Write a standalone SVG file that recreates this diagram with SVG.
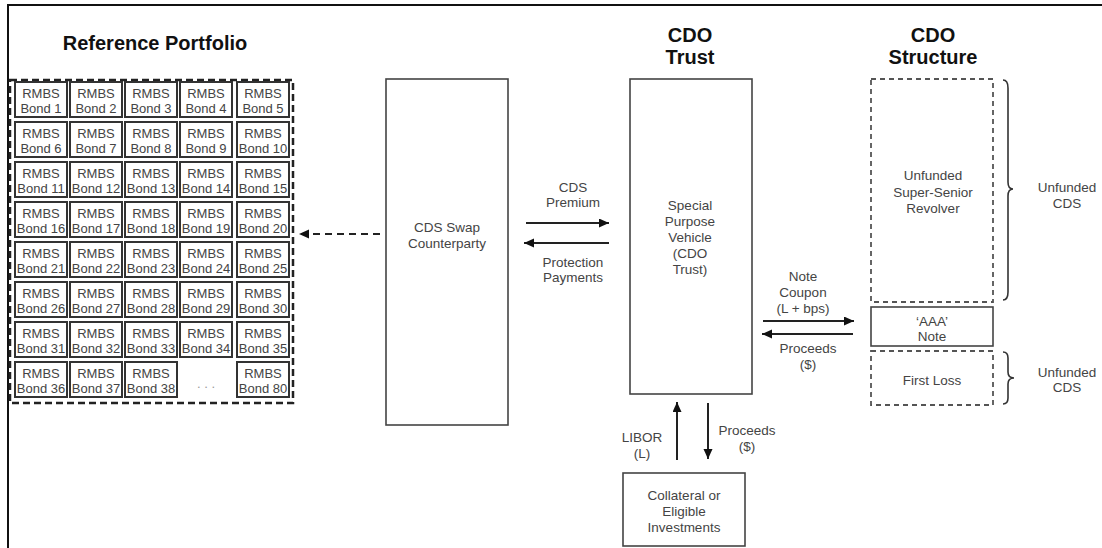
<svg xmlns="http://www.w3.org/2000/svg" width="1102" height="548" viewBox="0 0 1102 548">
<defs>
<marker id="ah" markerUnits="userSpaceOnUse" markerWidth="11" markerHeight="10" refX="10" refY="4.5" orient="auto"><path d="M0,0 L10,4.5 L0,9 z" fill="#111"/></marker>
<style>
.t{font-family:"Liberation Sans",Arial,sans-serif;font-size:13.5px;fill:#444;text-anchor:middle}
.c{font-family:"Liberation Sans",Arial,sans-serif;font-size:13px;fill:#444;text-anchor:middle}
.h{font-family:"Liberation Sans",Arial,sans-serif;font-size:20px;font-weight:bold;fill:#111;text-anchor:middle}
.box{fill:#fff;stroke:#444;stroke-width:1.6}
.dbox{fill:none;stroke:#555;stroke-width:1.8;stroke-dasharray:5,4}
.cell{fill:#fff;stroke:#333;stroke-width:2}
.ln{stroke:#222;stroke-width:2;fill:none}
.br{stroke:#333;stroke-width:1.6;fill:none}
</style>
</defs>
<rect width="1102" height="548" fill="#fff"/>
<path d="M8,548 L8,5 L1102,5" fill="none" stroke="#111" stroke-width="2"/>

<g id="titles">
<text class="h" x="155" y="50">Reference Portfolio</text>
<text class="h" x="690" y="42">CDO</text>
<text class="h" x="690" y="64">Trust</text>
<text class="h" x="933" y="42">CDO</text>
<text class="h" x="933" y="64">Structure</text>
</g>

<g id="portfolio">
<rect x="10" y="80" width="283" height="323" fill="none" stroke="#222" stroke-width="2.5" stroke-dasharray="7,4"/>
<g id="r1">
<rect class="cell" x="15" y="82" width="52" height="35"/><text class="c" x="41" y="98">RMBS</text><text class="c" x="41" y="113">Bond 1</text>
<rect class="cell" x="70" y="82" width="52" height="35"/><text class="c" x="96" y="98">RMBS</text><text class="c" x="96" y="113">Bond 2</text>
<rect class="cell" x="125" y="82" width="52" height="35"/><text class="c" x="151" y="98">RMBS</text><text class="c" x="151" y="113">Bond 3</text>
<rect class="cell" x="180" y="82" width="52" height="35"/><text class="c" x="206" y="98">RMBS</text><text class="c" x="206" y="113">Bond 4</text>
<rect class="cell" x="237" y="82" width="52" height="35"/><text class="c" x="263" y="98">RMBS</text><text class="c" x="263" y="113">Bond 5</text>
</g>
<g id="r2">
<rect class="cell" x="15" y="122" width="52" height="35"/><text class="c" x="41" y="138">RMBS</text><text class="c" x="41" y="153">Bond 6</text>
<rect class="cell" x="70" y="122" width="52" height="35"/><text class="c" x="96" y="138">RMBS</text><text class="c" x="96" y="153">Bond 7</text>
<rect class="cell" x="125" y="122" width="52" height="35"/><text class="c" x="151" y="138">RMBS</text><text class="c" x="151" y="153">Bond 8</text>
<rect class="cell" x="180" y="122" width="52" height="35"/><text class="c" x="206" y="138">RMBS</text><text class="c" x="206" y="153">Bond 9</text>
<rect class="cell" x="237" y="122" width="52" height="35"/><text class="c" x="263" y="138">RMBS</text><text class="c" x="263" y="153">Bond 10</text>
</g>
<g id="r3">
<rect class="cell" x="15" y="162" width="52" height="35"/><text class="c" x="41" y="178">RMBS</text><text class="c" x="41" y="193">Bond 11</text>
<rect class="cell" x="70" y="162" width="52" height="35"/><text class="c" x="96" y="178">RMBS</text><text class="c" x="96" y="193">Bond 12</text>
<rect class="cell" x="125" y="162" width="52" height="35"/><text class="c" x="151" y="178">RMBS</text><text class="c" x="151" y="193">Bond 13</text>
<rect class="cell" x="180" y="162" width="52" height="35"/><text class="c" x="206" y="178">RMBS</text><text class="c" x="206" y="193">Bond 14</text>
<rect class="cell" x="237" y="162" width="52" height="35"/><text class="c" x="263" y="178">RMBS</text><text class="c" x="263" y="193">Bond 15</text>
</g>
<g id="r4">
<rect class="cell" x="15" y="202" width="52" height="35"/><text class="c" x="41" y="218">RMBS</text><text class="c" x="41" y="233">Bond 16</text>
<rect class="cell" x="70" y="202" width="52" height="35"/><text class="c" x="96" y="218">RMBS</text><text class="c" x="96" y="233">Bond 17</text>
<rect class="cell" x="125" y="202" width="52" height="35"/><text class="c" x="151" y="218">RMBS</text><text class="c" x="151" y="233">Bond 18</text>
<rect class="cell" x="180" y="202" width="52" height="35"/><text class="c" x="206" y="218">RMBS</text><text class="c" x="206" y="233">Bond 19</text>
<rect class="cell" x="237" y="202" width="52" height="35"/><text class="c" x="263" y="218">RMBS</text><text class="c" x="263" y="233">Bond 20</text>
</g>
<g id="r5">
<rect class="cell" x="15" y="242" width="52" height="35"/><text class="c" x="41" y="258">RMBS</text><text class="c" x="41" y="273">Bond 21</text>
<rect class="cell" x="70" y="242" width="52" height="35"/><text class="c" x="96" y="258">RMBS</text><text class="c" x="96" y="273">Bond 22</text>
<rect class="cell" x="125" y="242" width="52" height="35"/><text class="c" x="151" y="258">RMBS</text><text class="c" x="151" y="273">Bond 23</text>
<rect class="cell" x="180" y="242" width="52" height="35"/><text class="c" x="206" y="258">RMBS</text><text class="c" x="206" y="273">Bond 24</text>
<rect class="cell" x="237" y="242" width="52" height="35"/><text class="c" x="263" y="258">RMBS</text><text class="c" x="263" y="273">Bond 25</text>
</g>
<g id="r6">
<rect class="cell" x="15" y="282" width="52" height="35"/><text class="c" x="41" y="298">RMBS</text><text class="c" x="41" y="313">Bond 26</text>
<rect class="cell" x="70" y="282" width="52" height="35"/><text class="c" x="96" y="298">RMBS</text><text class="c" x="96" y="313">Bond 27</text>
<rect class="cell" x="125" y="282" width="52" height="35"/><text class="c" x="151" y="298">RMBS</text><text class="c" x="151" y="313">Bond 28</text>
<rect class="cell" x="180" y="282" width="52" height="35"/><text class="c" x="206" y="298">RMBS</text><text class="c" x="206" y="313">Bond 29</text>
<rect class="cell" x="237" y="282" width="52" height="35"/><text class="c" x="263" y="298">RMBS</text><text class="c" x="263" y="313">Bond 30</text>
</g>
<g id="r7">
<rect class="cell" x="15" y="322" width="52" height="35"/><text class="c" x="41" y="338">RMBS</text><text class="c" x="41" y="353">Bond 31</text>
<rect class="cell" x="70" y="322" width="52" height="35"/><text class="c" x="96" y="338">RMBS</text><text class="c" x="96" y="353">Bond 32</text>
<rect class="cell" x="125" y="322" width="52" height="35"/><text class="c" x="151" y="338">RMBS</text><text class="c" x="151" y="353">Bond 33</text>
<rect class="cell" x="180" y="322" width="52" height="35"/><text class="c" x="206" y="338">RMBS</text><text class="c" x="206" y="353">Bond 34</text>
<rect class="cell" x="237" y="322" width="52" height="35"/><text class="c" x="263" y="338">RMBS</text><text class="c" x="263" y="353">Bond 35</text>
</g>
<g id="r8">
<rect class="cell" x="15" y="362" width="52" height="35"/><text class="c" x="41" y="378">RMBS</text><text class="c" x="41" y="393">Bond 36</text>
<rect class="cell" x="70" y="362" width="52" height="35"/><text class="c" x="96" y="378">RMBS</text><text class="c" x="96" y="393">Bond 37</text>
<rect class="cell" x="125" y="362" width="52" height="35"/><text class="c" x="151" y="378">RMBS</text><text class="c" x="151" y="393">Bond 38</text>
<text class="c" x="206" y="388" style="fill:#999">. . .</text>
<rect class="cell" x="237" y="362" width="52" height="35"/><text class="c" x="263" y="378">RMBS</text><text class="c" x="263" y="393">Bond 80</text>
</g>
</g>

<g id="cds-swap">
<rect class="box" x="386" y="79" width="122" height="346"/>
<text class="t" x="447" y="232">CDS Swap</text>
<text class="t" x="447" y="248">Counterparty</text>
</g>

<g id="trust">
<rect class="box" x="630" y="79" width="122" height="315"/>
<text class="t" x="690" y="210">Special</text>
<text class="t" x="690" y="226">Purpose</text>
<text class="t" x="690" y="242">Vehicle</text>
<text class="t" x="690" y="258">(CDO</text>
<text class="t" x="690" y="274">Trust)</text>
</g>

<g id="super-senior">
<rect class="dbox" x="871" y="79" width="122" height="223"/>
<text class="t" x="933" y="180">Unfunded</text>
<text class="t" x="933" y="197">Super-Senior</text>
<text class="t" x="933" y="213">Revolver</text>
</g>

<g id="aaa-note">
<rect class="box" x="871" y="307" width="122" height="39"/>
<text class="t" x="932" y="326">&#8216;AAA&#8217;</text>
<text class="t" x="932" y="341">Note</text>
</g>

<g id="first-loss">
<rect class="dbox" x="871" y="351" width="122" height="54"/>
<text class="t" x="932" y="385">First Loss</text>
</g>

<g id="collateral">
<rect class="box" x="623" y="473" width="122" height="73"/>
<text class="t" x="684" y="500">Collateral or</text>
<text class="t" x="684" y="516">Eligible</text>
<text class="t" x="684" y="532">Investments</text>
</g>

<g id="braces">
<path class="br" d="M1003,80 Q1008,80 1008,88 L1008,182 Q1008,189 1013,189 Q1008,189 1008,196 L1008,292 Q1008,300 1003,300"/>
<path class="br" d="M1003,352 Q1008,352 1008,358 L1008,372 Q1008,378 1014,378 Q1008,378 1008,384 L1008,398 Q1008,404 1003,404"/>
<text class="t" x="1067" y="192">Unfunded</text>
<text class="t" x="1067" y="208">CDS</text>
<text class="t" x="1067" y="377">Unfunded</text>
<text class="t" x="1067" y="392">CDS</text>
</g>

<g id="connectors">
<line class="ln" x1="380" y1="234" x2="299" y2="234" stroke-dasharray="7,5" marker-end="url(#ah)"/>
<line class="ln" x1="526" y1="223" x2="609" y2="223" marker-end="url(#ah)"/>
<line class="ln" x1="609" y1="243" x2="524" y2="243" marker-end="url(#ah)"/>
<line class="ln" x1="763" y1="321" x2="854" y2="321" marker-end="url(#ah)"/>
<line class="ln" x1="853" y1="334" x2="762" y2="334" marker-end="url(#ah)"/>
<line class="ln" x1="677" y1="460" x2="677" y2="402" marker-end="url(#ah)"/>
<line class="ln" x1="708" y1="403" x2="708" y2="459" marker-end="url(#ah)"/>
<text class="t" x="573" y="192">CDS</text>
<text class="t" x="573" y="207">Premium</text>
<text class="t" x="573" y="267">Protection</text>
<text class="t" x="573" y="282">Payments</text>
<text class="t" x="803" y="281">Note</text>
<text class="t" x="803" y="297">Coupon</text>
<text class="t" x="803" y="313">(L + bps)</text>
<text class="t" x="808" y="353">Proceeds</text>
<text class="t" x="808" y="369">($)</text>
<text class="t" x="642" y="442">LIBOR</text>
<text class="t" x="642" y="458">(L)</text>
<text class="t" x="747" y="435">Proceeds</text>
<text class="t" x="747" y="451">($)</text>
</g>
</svg>
